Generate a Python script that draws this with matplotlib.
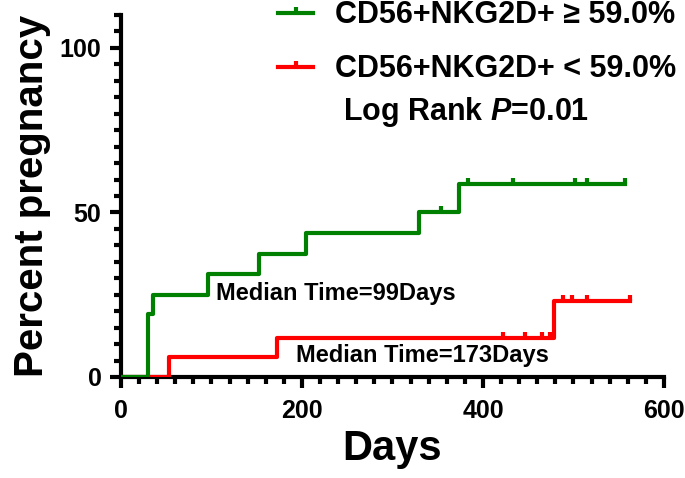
import numpy as np
import matplotlib
matplotlib.use('Agg')
import matplotlib.pyplot as plt
from matplotlib.path import Path
from matplotlib.lines import Line2D

plt.rcParams['font.family'] = ['Liberation Sans', 'DejaVu Sans']
plt.rcParams['font.weight'] = 'bold'
plt.rcParams['mathtext.fontset'] = 'custom'
plt.rcParams['mathtext.it'] = 'Liberation Sans:italic:bold'
plt.rcParams['mathtext.rm'] = 'Liberation Sans:bold'

# Kaplan-Meier steps (days, percent pregnant)
high_t = [0, 30, 35.5, 96, 152.5, 205, 329, 374, 557]
high_p = [0, 19, 25, 31.3, 37.5, 43.75, 50, 58.5, 58.5]
high_cens = [354, 383, 433, 502, 515, 557]

low_t = [0, 53, 172, 479, 563]
low_p = [0, 6.0, 11.8, 23.2, 23.2]
low_cens = [422, 446, 465, 474, 488, 498, 515, 562]

high_label = 'CD56+NKG2D+ \u2265 59.0%'
low_label = 'CD56+NKG2D+ < 59.0%'
green = '#008000'
red = '#ff0000'

# upward censor tick
tick_marker = Path([(0, 0), (0, 1)], [Path.MOVETO, Path.LINETO])


def level_at(ts, ps, times):
    idx = np.searchsorted(ts, times, side='right') - 1
    return np.array(ps)[idx]


fig = plt.figure(figsize=(6.85, 4.78), dpi=100)
ax = fig.add_axes([0.1766, 0.2113, 0.7927, 0.7573])

ax.step(low_t, low_p, where='post', color=red, lw=3, zorder=3)
ax.plot(low_cens, level_at(low_t, low_p, low_cens), ls='none', marker=tick_marker,
        ms=9, mew=3, color=red, zorder=3)
ax.step(high_t, high_p, where='post', color=green, lw=3, zorder=4)
ax.plot(high_cens, level_at(high_t, high_p, high_cens), ls='none', marker=tick_marker,
        ms=9, mew=3, color=green, zorder=4)

ax.set_xlim(0, 600)
ax.set_ylim(0, 110)
ax.set_xticks([0, 200, 400, 600])
ax.set_xticks(np.arange(0, 601, 20), minor=True)
ax.set_yticks([0, 50, 100])
ax.set_yticks(np.arange(0, 111, 5), minor=True)
for s in ['top', 'right']:
    ax.spines[s].set_visible(False)
for s in ['left', 'bottom']:
    ax.spines[s].set_linewidth(3)
ax.tick_params(which='major', length=8, width=3, labelsize=18, pad=6)
ax.tick_params(which='minor', length=5, width=3)
ax.tick_params(axis='x', which='major', pad=8)
for lab in ax.get_xticklabels() + ax.get_yticklabels():
    lab.set_fontweight('bold')

ax.set_xlabel('Days', fontsize=30, fontweight='bold', labelpad=4)
ax.set_ylabel('Percent pregnancy', fontsize=29, fontweight='bold', labelpad=6)

ax.text(105, 25.3, 'Median Time=99Days', fontsize=17, fontweight='bold', va='center')
ax.text(193, 6.4, 'Median Time=173Days', fontsize=17, fontweight='bold', va='center')

handles = [Line2D([], [], color=green, lw=3, marker=tick_marker, ms=9, mew=3),
           Line2D([], [], color=red, lw=3, marker=tick_marker, ms=9, mew=3)]
leg = fig.legend(handles, [high_label, low_label], loc='upper left',
                 bbox_to_anchor=(278 / 685, 0.999), frameon=False, fontsize=22,
                 handlelength=1.15, handletextpad=0.7, labelspacing=0.78,
                 borderpad=0, borderaxespad=0, numpoints=1)
for t in leg.get_texts():
    t.set_fontweight('bold')

fig.text(343 / 685, 1 - 112 / 478, 'Log Rank $\\it{P}$=0.01', fontsize=22,
         fontweight='bold', va='center')

fig.savefig('out.png', dpi=100)
